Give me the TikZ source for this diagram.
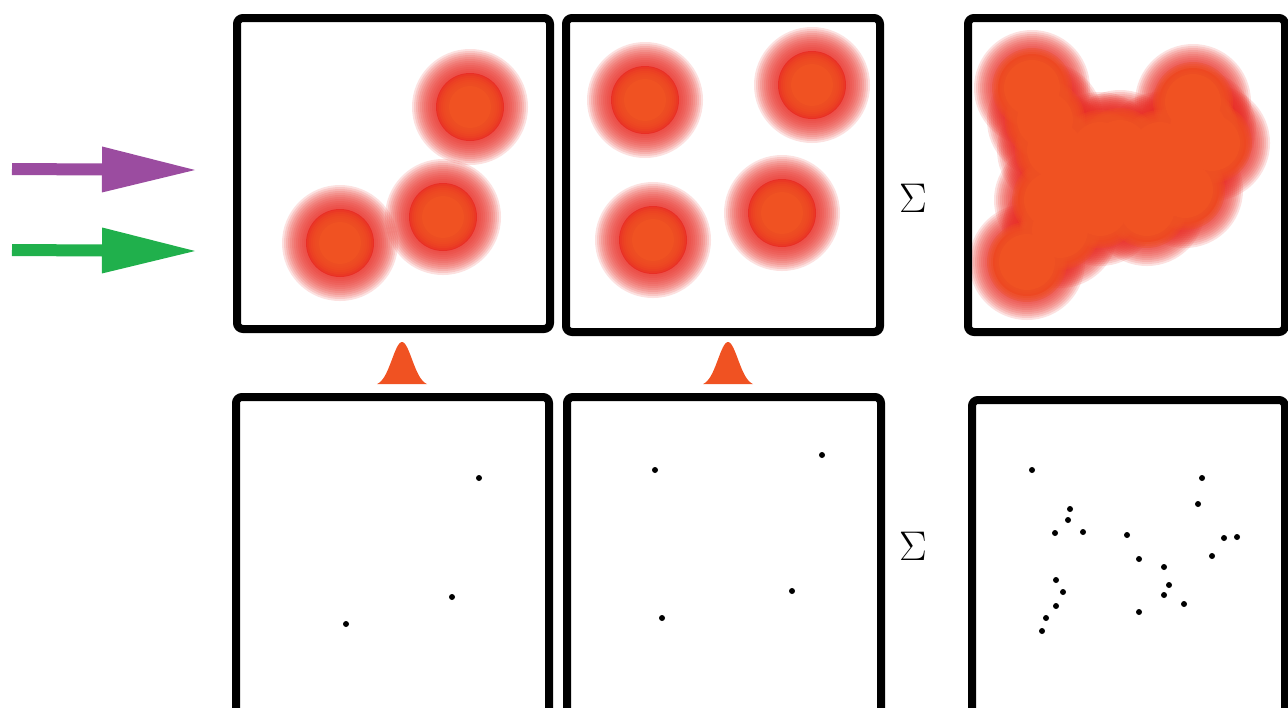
\documentclass[tikz,border=0pt]{standalone}
\usepackage{amsmath}
\usetikzlibrary{arrows.meta}

\definecolor{blobcore}{RGB}{240,82,34}
\definecolor{blobrim}{RGB}{232,46,38}
\definecolor{arrowpurple}{RGB}{155,76,160}
\definecolor{arrowgreen}{RGB}{32,176,76}

% soft red spot: red halo first, orange centre on top (#2 = solid radius)
\newcommand{\rimdisk}[2]{\foreach \r in {2,4,...,24} \fill[blobrim,opacity=.14] #1 circle (#2+\r);
  \fill[blobrim] #1 circle (#2);}
\newcommand{\coredisk}[2]{\foreach \r in {2,4,...,12} \fill[blobcore,opacity=.3] #1 circle (#2+\r);
  \fill[blobcore] #1 circle (#2);}

\begin{document}
\begin{tikzpicture}[x=.5pt,y=-.5pt,
  panel/.style={draw=black,line width=4pt,rounded corners=3pt},
  tip/.style={-{Triangle[length=46.5pt,width=23pt,line width=0pt]}}]
\useasboundingbox (0,0) rectangle (1288,707);
\clip (0,0) rectangle (1288,707);

% input arrows
\coordinate (pa) at (12,169); \coordinate (pb) at (195,170);
\coordinate (ga) at (12,250); \coordinate (gb) at (195,251);
\draw[tip,color=arrowpurple,line width=6pt] (pa) -- (pb);
\draw[tip,color=arrowgreen,line width=6pt] (ga) -- (gb);

% blurred maps
\begin{scope}
\clip (241,22) rectangle (546,325);
\foreach \c in {(470,107),(443,217),(340,243)} {\rimdisk{\c}{34}}
\foreach \c in {(470,107),(443,217),(340,243)} {\coredisk{\c}{21}}
\end{scope}
\begin{scope}
\clip (570,22) rectangle (876,328);
\foreach \c in {(645,100),(812,85),(653,240),(782,213)} {\rimdisk{\c}{34}}
\foreach \c in {(645,100),(812,85),(653,240),(782,213)} {\coredisk{\c}{21}}
\end{scope}
\begin{scope}
\clip (972,22) rectangle (1281,328);
\foreach \c in {(1032,88),(1120,148),(1193,102),(1212,143),(1185,190),(1147,208),(1100,208),(1027,262),(1052,200),(1055,150),(1100,150),(1160,150),(1060,230),(1045,120),(1078,175),(1125,180),(1170,170),(1198,128)}
  {\rimdisk{\c}{34}}
\foreach \c in {(1032,88),(1120,148),(1193,102),(1212,143),(1185,190),(1147,208),(1100,208),(1027,262),(1052,200),(1055,150),(1100,150),(1160,150),(1060,230),(1045,120),(1078,175),(1125,180),(1170,170),(1198,128)}
  {\coredisk{\c}{28}}
\end{scope}

\draw[panel] (237,18) rectangle (550,329);
\draw[panel] (566,18) rectangle (880,332);
\draw[panel] (968,18) rectangle (1285,332);

% point sets
\draw[panel] (236,397) rectangle (549,730);
\draw[panel] (567,397) rectangle (881,730);
\draw[panel] (972,400) rectangle (1285,730);
\foreach \p in {(479,478),(452,597),(346,624)} \fill \p circle (3);
\foreach \p in {(655,470),(822,455),(792,591),(662,618)} \fill \p circle (3);
\foreach \p in {(1032,470),(1202,478),(1198,504),(1070,509),(1068,520),(1055,533),(1083,532),(1127,535),(1224,538),(1237,537),(1139,559),(1212,556),(1164,567),(1056,580),(1063,592),(1169,585),(1164,595),(1056,606),(1184,604),(1139,612),(1046,618),(1042,631)}
  \fill \p circle (3);

% kernels
\foreach \bx in {402,728}
  \fill[blobcore] plot[domain=-25:25,samples=41] ({\bx+\x},{386-44*exp(-0.5*(\x/10)^2)}) -- cycle;

\node (sumtop) at (913,198) {\fontsize{22}{22}\selectfont$\Sigma$};
\node (sumbot) at (913,546) {\fontsize{22}{22}\selectfont$\Sigma$};

\end{tikzpicture}
\end{document}
